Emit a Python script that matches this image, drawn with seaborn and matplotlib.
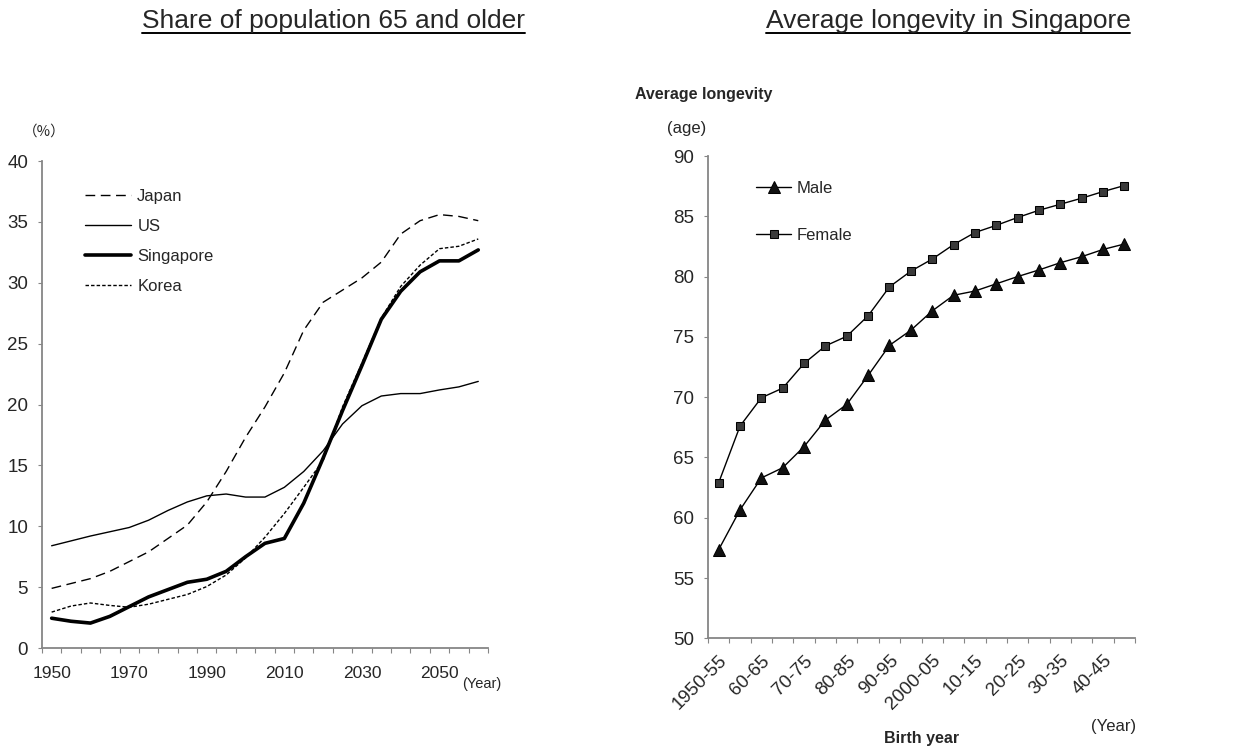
import numpy as np
import pandas as pd
import matplotlib
matplotlib.use("Agg")
import matplotlib.pyplot as plt
import seaborn as sns
from matplotlib.lines import Line2D

# --- data: share of population 65+ (%) ---
years = list(range(1950, 2061, 5))
japan = [4.9, 5.3, 5.7, 6.3, 7.1, 7.9, 9.0, 10.1, 12.0, 14.5, 17.3, 19.8, 22.6,
         26.1, 28.4, 29.4, 30.4, 31.7, 34.0, 35.1, 35.6, 35.45, 35.1]
us = [8.4, 8.8, 9.2, 9.55, 9.9, 10.5, 11.3, 12.0, 12.5, 12.65, 12.4, 12.4, 13.2,
      14.5, 16.2, 18.4, 19.9, 20.7, 20.9, 20.9, 21.2, 21.45, 21.9]
singapore = [2.45, 2.2, 2.05, 2.6, 3.4, 4.2, 4.8, 5.4, 5.65, 6.3, 7.5, 8.6, 9.0,
             11.9, 15.6, 19.5, 23.2, 27.0, 29.3, 30.9, 31.8, 31.8, 32.7]
korea = [2.95, 3.45, 3.7, 3.5, 3.35, 3.6, 4.0, 4.4, 5.05, 6.0, 7.4, 9.1, 11.05,
         13.2, 15.4, 19.8, 23.4, 27.1, 29.7, 31.45, 32.8, 33.0, 33.6]

# --- data: average longevity in Singapore by birth year ---
birth_labels = ["1950-55", "55-60", "60-65", "65-70", "70-75", "75-80", "80-85",
                "85-90", "90-95", "95-2000", "2000-05", "05-10", "10-15", "15-20",
                "20-25", "25-30", "30-35", "35-40", "40-45", "45-50"]
male = [57.35, 60.65, 63.3, 64.15, 65.9, 68.1, 69.4, 71.8, 74.3, 75.55, 77.15,
        78.45, 78.8, 79.4, 80.0, 80.55, 81.15, 81.65, 82.25, 82.7]
female = [62.9, 67.6, 69.95, 70.75, 72.8, 74.25, 75.05, 76.75, 79.15, 80.45,
          81.45, 82.65, 83.65, 84.25, 84.9, 85.5, 86.0, 86.5, 87.05, 87.55]

sns.set_style("ticks")
plt.rcParams["font.family"] = ["Liberation Sans", "Noto Sans CJK JP", "DejaVu Sans"]
grey = "#868686"
W, H = 1241, 749


def fx(px):
    return px / W


def fy(py):
    return 1 - py / H


fig = plt.figure(figsize=(12.41, 7.49), dpi=100)
ax1 = fig.add_axes([0.0338, 0.1348, 0.3594, 0.6502])
ax2 = fig.add_axes([0.5705, 0.1478, 0.3441, 0.6439])

# ---------- left chart ----------
df1 = pd.DataFrame({"pos": np.arange(len(years)), "Japan": japan, "US": us,
                    "Singapore": singapore, "Korea": korea})
styles = {
    "Japan": dict(lw=1.0, ls=(0, (7, 4))),
    "US": dict(lw=1.0, ls="-"),
    "Singapore": dict(lw=2.6, ls="-"),
    "Korea": dict(lw=1.0, ls=(0, (2.5, 1.5))),
}
for name, st in styles.items():
    sns.lineplot(data=df1, x="pos", y=name, ax=ax1, color="black",
                 linewidth=st["lw"], linestyle=st["ls"], label=name)

ax1.set_xlim(-0.5, len(years) - 0.5)
ax1.set_ylim(0, 40)
ax1.set_yticks(range(0, 41, 5))
ax1.set_xticks(np.arange(-0.5, len(years), 1))
ax1.set_xticklabels([])
ax1.set_xticks(np.arange(0, len(years), 4), minor=True)
ax1.set_xticklabels([str(years[i]) for i in range(0, len(years), 4)], minor=True)
ax1.tick_params(axis="x", which="minor", length=0, pad=13, labelsize=12.5)
ax1.tick_params(axis="x", which="major", length=3.5, color=grey)
ax1.tick_params(axis="y", length=3, color=grey, labelsize=13.5, pad=7)
ax1.set_xlabel("")
ax1.set_ylabel("")
ax1.legend(loc="upper left", bbox_to_anchor=(0.062, 0.974), frameon=False,
           fontsize=12, handlelength=2.8, handletextpad=0.36,
           labelspacing=0.9)
fig.text(fx(44), fy(132), "（%）", ha="center", va="center", fontsize=10.5,
         family=["Noto Sans CJK JP", "DejaVu Sans"])
fig.text(fx(462), fy(684), "(Year)", ha="left", va="center", fontsize=10.5)

# ---------- right chart ----------
df2 = pd.DataFrame({"pos": np.arange(len(birth_labels)), "Male": male,
                    "Female": female})
sns.lineplot(data=df2, x="pos", y="Male", ax=ax2, color="black", linewidth=1.0,
             marker="^", markersize=8.5, markerfacecolor="#111111",
             markeredgecolor="black", label="Male")
sns.lineplot(data=df2, x="pos", y="Female", ax=ax2, color="black",
             linewidth=1.0, marker="s", markersize=6.2,
             markerfacecolor="#3a3a3a", markeredgecolor="black", label="Female")

ax2.set_xlim(-0.5, len(birth_labels) - 0.5)
ax2.set_ylim(50, 90)
ax2.set_yticks(range(50, 91, 5))
ax2.set_xticks(np.arange(-0.5, len(birth_labels), 1))
ax2.set_xticklabels([])
ax2.set_xticks(np.arange(0, len(birth_labels), 2), minor=True)
ax2.set_xticklabels([birth_labels[i] for i in range(0, len(birth_labels), 2)],
                    minor=True, rotation=45, ha="right", rotation_mode="anchor")
ax2.tick_params(axis="x", which="minor", length=0, pad=10, labelsize=13.5)
ax2.tick_params(axis="x", which="major", length=3.5, color=grey)
ax2.tick_params(axis="y", length=3, color=grey, labelsize=13.5, pad=7)
ax2.set_xlabel("")
ax2.set_ylabel("")
ax2.legend(loc="upper left", bbox_to_anchor=(0.078, 0.980), frameon=False,
           fontsize=12, handlelength=2.1, handletextpad=0.3, labelspacing=1.93)
fig.text(fx(635), fy(95), "Average longevity", ha="left", va="center",
         fontsize=11.5, fontweight="bold")
fig.text(fx(687), fy(128), "(age)", ha="center", va="center", fontsize=12)
fig.text(fx(1136), fy(726), "(Year)", ha="right", va="center", fontsize=12)
fig.text(fx(922), fy(738), "Birth year", ha="center", va="center",
         fontsize=11.5, fontweight="bold")

for ax in (ax1, ax2):
    sns.despine(ax=ax)
    for sp in ("left", "bottom"):
        ax.spines[sp].set_color(grey)
        ax.spines[sp].set_linewidth(1.3)

# titles with underline
t1 = fig.text(fx(333), fy(28), "Share of population 65 and older",
              ha="center", va="baseline", fontsize=19)
t2 = fig.text(fx(948), fy(28), "Average longevity in Singapore",
              ha="center", va="baseline", fontsize=19)
fig.canvas.draw()
r = fig.canvas.get_renderer()
for t in (t1, t2):
    bb = t.get_window_extent(r).transformed(fig.transFigure.inverted())
    fig.add_artist(Line2D([bb.x0, bb.x1], [fy(32.5), fy(32.5)], color="black",
                          lw=1.4, transform=fig.transFigure))

fig.savefig("out.png", dpi=100)
